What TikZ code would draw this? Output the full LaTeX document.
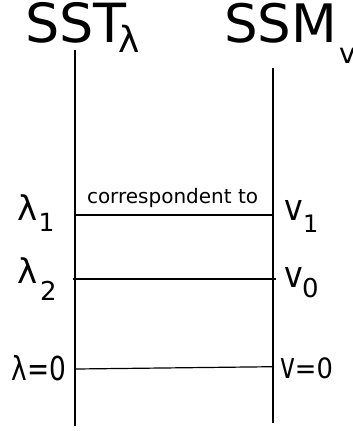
\documentclass[tikz,border=0pt]{standalone}
\usepackage{fontspec}
\setmainfont{DejaVu Sans}
\newcommand{\fs}[1]{\fontsize{#1}{#1}\selectfont}
\begin{document}
\begin{tikzpicture}[x=1pt,y=-1pt,
  lbl/.style={anchor=base west,inner sep=0pt,outer sep=0pt},
  rule/.style={line width=1.2pt,black}]
\useasboundingbox (0,0) rectangle (353,431);
% titles
\node[lbl] (sst) at (25,42) {\fs{54}SST};
\node[lbl] (sstsub) at (118,52) {\fs{36}λ};
\node[lbl] (ssm) at (224,42) {\fs{53}SSM};
\node[lbl] (ssmsub) at (339,63) {\fs{28}v};
% vertical lines
\coordinate (Ltop) at (75,50);
\coordinate (Lbot) at (75,426);
\coordinate (Rtop) at (273,68);
\coordinate (Rbot) at (273,423);
\draw[rule] (Ltop) -- (Lbot);
\draw[rule] (Rtop) -- (Rbot);
% horizontal lines
\coordinate (a1) at (75,215);
\coordinate (b1) at (273,215);
\coordinate (a2) at (72.5,279);
\coordinate (b2) at (276,279);
\coordinate (a3) at (76,369);
\coordinate (b3) at (274,366.7);
\draw[rule] (a1) -- (b1);
\draw[rule] (a2) -- (b2);
\draw[rule] (a3) -- (b3);
% label on first line
\node[lbl] (corr) at (87,203) {\fs{20}correspondent to};
% left labels
\node[lbl] (l1) at (17,220) {\fs{34}λ};
\node[lbl] (l1s) at (38.5,231) {\fs{25}1};
\node[lbl] (l2) at (17,283) {\fs{34}λ};
\node[lbl] (l2s) at (40,300) {\fs{26}2};
\node[lbl] (l0) at (12,380) {\fs{33}\scalebox{0.8}[1]{λ=0}};
% right labels
\node[lbl] (r1) at (284,220) {\fs{30}\scalebox{1.05}[1.22]{v}};
\node[lbl] (r1s) at (303,232) {\fs{24}1};
\node[lbl] (r0) at (284,287) {\fs{30}\scalebox{1.05}[1.22]{v}};
\node[lbl] (r0s) at (302,297) {\fs{26}0};
\node[lbl] (rz) at (280,378) {\fs{28}\scalebox{0.9}[1.3]{v}\scalebox{0.92}[1]{=0}};
\end{tikzpicture}
\end{document}
